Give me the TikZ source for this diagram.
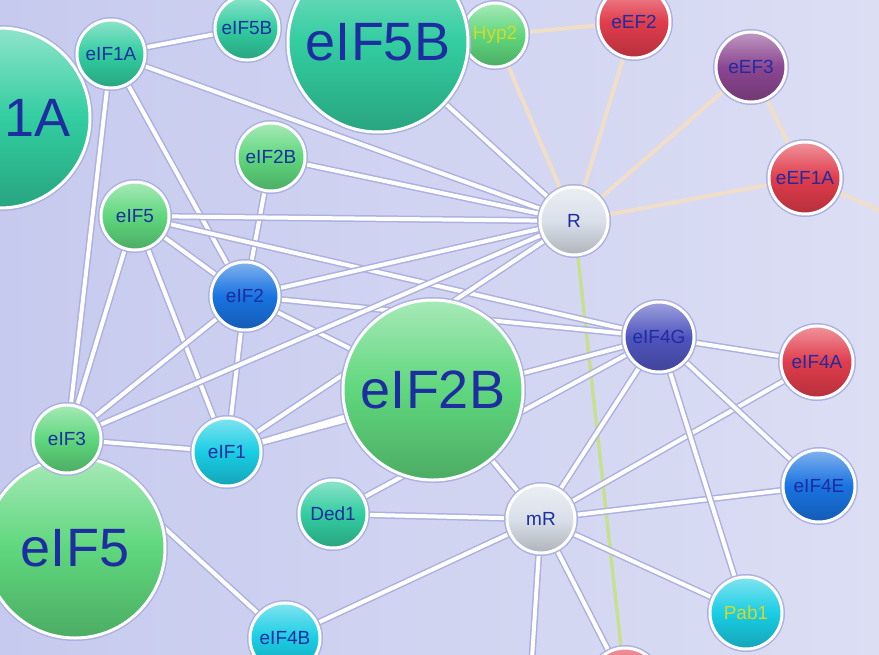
\documentclass[tikz,border=0pt]{standalone}
\usepackage{fontspec}
\setsansfont{Liberation Sans}
\usetikzlibrary{backgrounds}

\definecolor{seafoam}{RGB}{50,205,160}
\definecolor{leaf}{RGB}{95,215,125}
\definecolor{sky}{RGB}{25,205,228}
\definecolor{royal}{RGB}{25,115,225}
\definecolor{indigo}{RGB}{80,85,190}
\definecolor{cherry}{RGB}{225,60,75}
\definecolor{plum}{RGB}{140,70,145}
\definecolor{pearl}{RGB}{218,224,234}
\definecolor{txtblue}{RGB}{30,45,160}
\definecolor{txtyellow}{RGB}{215,215,40}
\definecolor{bglav}{RGB}{198,202,238}
\definecolor{bgright}{RGB}{220,222,244}
\definecolor{rimshade}{RGB}{172,177,224}
\definecolor{beige}{RGB}{240,222,200}
\definecolor{lime}{RGB}{198,224,140}

\begin{document}
\begin{tikzpicture}[x=1pt, y=-1pt,
    prot/.style={circle, draw=white, line width=3pt, inner sep=0pt, minimum size=68pt,
        top color=#1!55!white, bottom color=#1!80!black, middle color=#1,
        preaction={draw=rimshade, line width=6pt},
        font=\sffamily\fontsize{19}{19}\selectfont, text=txtblue},
    major/.style={minimum size=180pt, font=\sffamily\fontsize{54}{54}\selectfont},
    yel/.style={text=txtyellow},
    link/.style={white, line width=4pt, preaction={draw=rimshade, line width=7pt}},
    tan/.style={beige, line width=4pt}]

    \useasboundingbox (0,0) rectangle (879,654);
    \begin{scope}[on background layer]
        \fill[left color=bglav, right color=bgright] (0,0) rectangle (879,654);
    \end{scope}

    % upper left group
    \node[prot=seafoam, major] (eIF1Abig) at (0,118) {\hspace*{76pt}1A};
    \node[prot=seafoam] (eIF1A) at (111,54) {eIF1A};
    \node[prot=seafoam, minimum size=64pt] (eIF5Bsm) at (247,28) {eIF5B};
    \node[prot=leaf, yel, minimum size=64pt] (Hyp2) at (495,35) {Hyp2};
    \node[prot=seafoam, major] (eIF5Bbig) at (378,42) {eIF5B};
    \node[prot=leaf] (eIF2Bsm) at (271,157) {eIF2B};
    \node[prot=leaf] (eIF5sm) at (135,216) {eIF5};
    \node[prot=royal] (eIF2) at (245,296) {eIF2};

    % elongation factors
    \node[prot=cherry, minimum size=72pt] (eEF2) at (634,22) {eEF2};
    \node[prot=plum, minimum size=70pt] (eEF3) at (751,67) {eEF3};
    \node[prot=cherry, minimum size=72pt] (eEF1A) at (805,178) {eEF1A};
    \node[prot=pearl] (R) at (574,221) {R};

    % lower half
    \node[prot=leaf, major] (eIF2Bbig) at (433,390) {eIF2B};
    \node[prot=leaf, major] (eIF5big) at (75,548) {eIF5};
    \node[prot=leaf] (eIF3) at (67,439) {eIF3};
    \node[prot=sky] (eIF1) at (227,452) {eIF1};
    \node[prot=seafoam] (Ded1) at (333,514) {Ded1};
    \node[prot=sky, minimum size=70pt] (eIF4B) at (285,638) {eIF4B};
    \node[prot=pearl] (mR) at (541,519) {mR};
    \node[prot=indigo, minimum size=70pt] (eIF4G) at (659,337) {eIF4G};
    \node[prot=cherry, minimum size=72pt] (eIF4A) at (817,362) {eIF4A};
    \node[prot=royal, minimum size=72pt] (eIF4E) at (819,486) {eIF4E};
    \node[prot=sky, yel, minimum size=72pt] (Pab1) at (746,613) {Pab1};
    \node[prot=cherry, minimum size=70pt] (tail) at (625,683) {};

    \coordinate (eastexit) at (930,232);
    \coordinate (southexit) at (528,720);

    \begin{scope}[on background layer]
        \draw[tan] (R) -- (Hyp2) (R) -- (eEF2) (R) -- (eEF3) (R) -- (eEF1A)
            (Hyp2) -- (eEF2) (eEF3) -- (eEF1A) (eEF1A) -- (eastexit);
        \draw[lime, line width=3.4pt] (R) -- (tail);

        \draw[link] (eIF1A) -- (eIF5Bsm) (eIF1A) -- (R) (eIF1A) -- (eIF2) (eIF1A) -- (eIF3);
        \draw[link] (eIF5Bbig) -- (R) (eIF2Bsm) -- (R) (eIF2Bsm) -- (eIF2);
        \draw[link] (eIF5sm) -- (R) (eIF5sm) -- (eIF2) (eIF5sm) -- (eIF3)
            (eIF5sm) -- (eIF1) (eIF5sm) -- (eIF4G);
        \draw[link] (eIF2) -- (R) (eIF2) -- (eIF4G) (eIF2) -- (eIF3)
            (eIF2) -- (eIF1) (eIF2) -- (eIF2Bbig);
        \draw[link] (eIF3) -- (R) (eIF3) -- (eIF1) (eIF3) -- (eIF4B);
        \draw[link] (eIF1) -- (R) (eIF1) -- (eIF4G) (eIF1) -- (eIF2Bbig);
        \draw[link] (Ded1) -- (mR) (Ded1) -- (eIF4G) (eIF2Bbig) -- (mR) (eIF4B) -- (mR);
        \draw[link] (mR) -- (eIF4G) (mR) -- (eIF4A) (mR) -- (eIF4E) (mR) -- (Pab1)
            (mR) -- (tail) (mR) -- (southexit);
        \draw[link] (eIF4G) -- (eIF4A) (eIF4G) -- (eIF4E) (eIF4G) -- (Pab1);
    \end{scope}

\end{tikzpicture}
\end{document}
